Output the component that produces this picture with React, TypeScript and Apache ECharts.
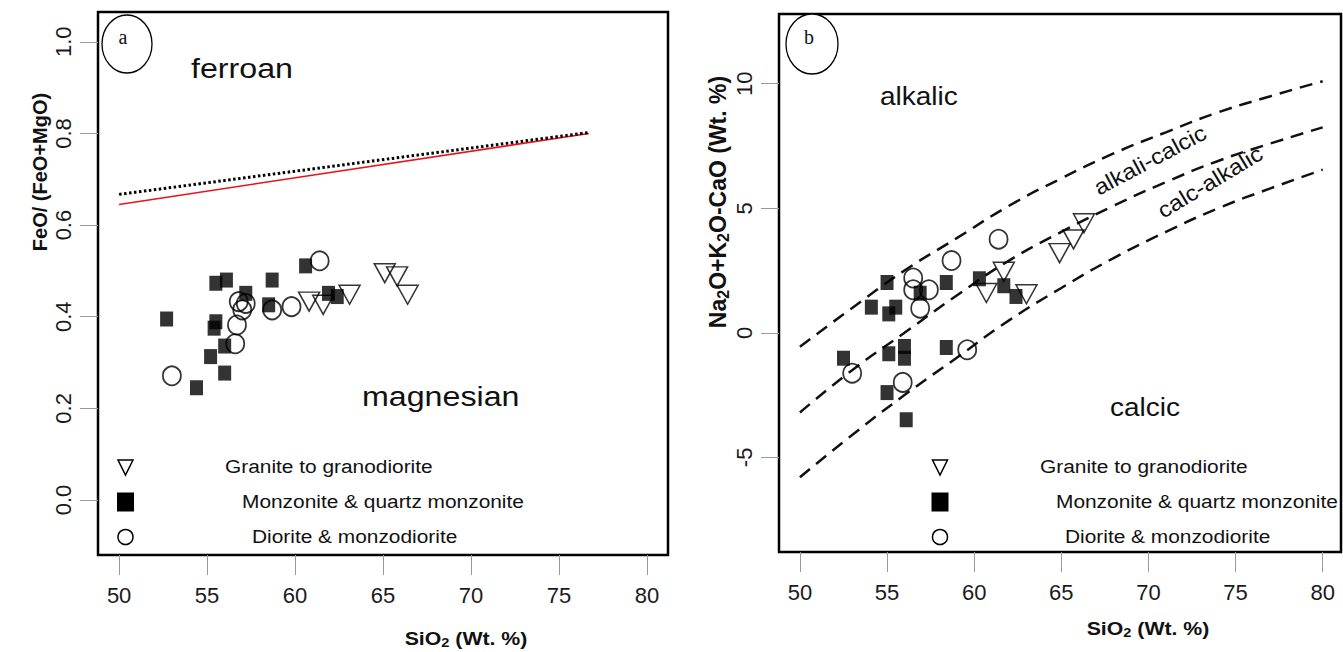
import React, { useEffect, useRef } from "react";
import * as echarts from "echarts";

// ---------- data ----------
const xTicks = [50, 55, 60, 65, 70, 75, 80];
const feTicks = [0, 0.2, 0.4, 0.6, 0.8, 1.0];
const maliTicks = [-5, 0, 5, 10];

// panel a: SiO2 vs FeO/(FeO+MgO)
const graniteFe = [
  [60.8, 0.433], [61.6, 0.426], [63.1, 0.448], [65.1, 0.495], [65.8, 0.488], [66.4, 0.448],
];
const monzoniteFe = [
  [52.7, 0.395], [55.5, 0.473], [56.1, 0.48], [57.2, 0.451], [58.7, 0.48], [58.5, 0.426],
  [60.6, 0.511], [61.9, 0.451], [62.4, 0.444], [55.5, 0.389], [55.4, 0.375], [56.0, 0.336],
  [55.2, 0.313], [56.0, 0.277], [54.4, 0.245],
];
const dioriteFe = [
  [61.4, 0.522], [56.8, 0.433], [57.2, 0.429], [57.0, 0.415], [58.7, 0.415], [59.8, 0.422],
  [56.7, 0.382], [56.6, 0.341], [53.0, 0.271],
];
const ferroanRedLine = [[50, 0.645], [76.7, 0.8]];
const ferroanDottedLine = [[50, 0.667], [76.7, 0.802]];

// panel b: SiO2 vs Na2O+K2O-CaO
const graniteMali = [
  [60.7, 1.6], [61.7, 2.45], [63.0, 1.55], [64.9, 3.2], [65.7, 3.75], [66.3, 4.4],
];
const monzoniteMali = [
  [55.0, 2.02], [54.1, 1.03], [55.5, 1.03], [55.1, 0.76], [56.9, 1.59], [58.4, 2.02],
  [60.3, 2.17], [61.7, 1.89], [62.4, 1.46], [52.5, -1.02], [55.1, -0.84], [56.0, -0.55],
  [56.0, -1.02], [58.4, -0.59], [55.0, -2.4], [56.1, -3.49],
];
const dioriteMali = [
  [61.4, 3.76], [58.7, 2.9], [56.5, 2.2], [56.5, 1.73], [57.4, 1.73], [56.9, 0.99],
  [59.6, -0.68], [53.0, -1.62], [55.9, -1.99],
];
const alkalicBoundary = [
  [50, -0.56], [53, 1.0], [56, 2.5], [59, 3.8], [62, 5.1], [65, 6.2], [68, 7.2],
  [71, 8.05], [74, 8.85], [77, 9.5], [80, 10.1],
];
const alkaliCalcicBoundary = [
  [50, -3.2], [53, -1.5], [56, 0.0], [59, 1.5], [62, 2.9], [65, 4.05], [68, 5.1],
  [71, 6.05], [74, 6.9], [77, 7.6], [80, 8.25],
];
const calcAlkalicBoundary = [
  [50, -5.8], [53, -4.1], [56, -2.5], [59, -1.0], [62, 0.5], [65, 1.8], [68, 3.0],
  [71, 4.05], [74, 5.0], [77, 5.8], [80, 6.55],
];

const legendNames = [
  "Granite to granodiorite",
  "Monzonite & quartz monzonite",
  "Diorite & monzodiorite",
];

// ---------- styles ----------
const FONT = '"Liberation Sans", Arial, Helvetica, sans-serif';
const SERIF = '"Liberation Serif", "Times New Roman", serif';
const HOLLOW = "rgba(255,255,255,0)";

function txt(x: number, y: number, text: string, size: number, o: any = {}) {
  return {
    type: "text",
    x,
    y,
    scaleX: o.scaleX ?? 1,
    rotation: o.rotation ?? 0,
    z: 10,
    style: {
      text,
      fontSize: size,
      fontFamily: o.family ?? FONT,
      fontWeight: o.weight ?? "normal",
      fill: o.fill ?? "#111",
      align: o.align ?? "left",
      verticalAlign: "middle",
      textAlign: o.align ?? "left",
      textVerticalAlign: "middle",
      rich: o.rich,
    },
  };
}

const subRich = (size: number) => ({
  b: { fontSize: size, fontWeight: "bold", fontFamily: FONT, fill: "#111" },
  s: {
    fontSize: Math.round(size * 0.68),
    fontWeight: "bold",
    fontFamily: FONT,
    fill: "#111",
    verticalAlign: "bottom",
    padding: [Math.round(size * 0.45), 0, 0, 0],
  },
});

function legendBlock(symX: number, textX: number[]) {
  const rows = [467, 502, 537];
  return [
    {
      type: "polygon",
      z: 10,
      shape: {
        points: [
          [symX - 7.5, rows[0] - 7],
          [symX + 7.5, rows[0] - 7],
          [symX, rows[0] + 8],
        ],
      },
      style: { fill: HOLLOW, stroke: "#000", lineWidth: 1.5 },
    },
    {
      type: "rect",
      z: 10,
      shape: { x: symX - 8.5, y: rows[1] - 9.5, width: 17, height: 19 },
      style: { fill: "#000" },
    },
    {
      type: "circle",
      z: 10,
      shape: { cx: symX, cy: rows[2], r: 7.5 },
      style: { fill: HOLLOW, stroke: "#000", lineWidth: 1.5 },
    },
    txt(textX[0], rows[0], legendNames[0], 18, { scaleX: 1.16 }),
    txt(textX[1], rows[1], legendNames[1], 18, { scaleX: 1.16 }),
    txt(textX[2], rows[2], legendNames[2], 18, { scaleX: 1.16 }),
  ];
}

function xAxisCfg(gridIndex: number, max: number) {
  return {
    gridIndex,
    type: "value",
    position: "bottom",
    min: 48.8,
    max,
    axisLine: { show: false, onZero: false },
    splitLine: { show: false },
    axisTick: {
      show: true,
      length: 20,
      customValues: xTicks,
      lineStyle: { color: "#9a9a9a", width: 1 },
    },
    axisLabel: {
      customValues: xTicks,
      fontSize: 22,
      fontFamily: FONT,
      color: "#1a1a1a",
      margin: 29,
    },
  };
}

function yAxisCfg(gridIndex: number, min: number, max: number, ticks: number[], digits: number) {
  return {
    gridIndex,
    type: "value",
    position: "left",
    min,
    max,
    axisLine: { show: false, onZero: false },
    splitLine: { show: false },
    axisTick: {
      show: true,
      length: 18,
      customValues: ticks,
      lineStyle: { color: "#9a9a9a", width: 1 },
    },
    axisLabel: {
      customValues: ticks,
      rotate: 90,
      fontSize: 22,
      fontFamily: FONT,
      color: "#1a1a1a",
      margin: 24,
      formatter: (v: number) => v.toFixed(digits),
    },
  };
}

function scatterSet(xi: number, gran: number[][], monz: number[][], dior: number[][]) {
  return [
    {
      type: "scatter",
      name: legendNames[1],
      xAxisIndex: xi,
      yAxisIndex: xi,
      data: monz,
      symbol: "rect",
      symbolSize: [13, 15],
      itemStyle: { color: "#000" },
      z: 3,
    },
    {
      type: "scatter",
      name: legendNames[2],
      xAxisIndex: xi,
      yAxisIndex: xi,
      data: dior,
      symbol: "circle",
      symbolSize: [18, 19],
      itemStyle: { color: HOLLOW, borderColor: "#000", borderWidth: 1.8 },
      z: 4,
    },
    {
      type: "scatter",
      name: legendNames[0],
      xAxisIndex: xi,
      yAxisIndex: xi,
      data: gran,
      symbol: "triangle",
      symbolRotate: 180,
      symbolSize: [21, 19],
      itemStyle: { color: HOLLOW, borderColor: "#000", borderWidth: 1.5 },
      z: 5,
    },
  ];
}

function lineSeries(xi: number, data: number[][], lineStyle: any, smooth = false) {
  return {
    type: "line",
    xAxisIndex: xi,
    yAxisIndex: xi,
    data,
    smooth,
    symbol: "none",
    silent: true,
    lineStyle,
    z: 2,
  };
}

export default function App() {
  const ref = useRef<HTMLDivElement>(null);

  useEffect(() => {
    if (!ref.current) return;
    const chart = echarts.init(ref.current, undefined, { renderer: "svg" });
    const dash = { color: "#111", width: 2.5, type: [13, 8] };
    chart.setOption({
      animation: false,
      backgroundColor: "#fff",
      grid: [
        {
          left: 98, top: 12, width: 570, height: 543,
          show: true, borderColor: "#000", borderWidth: 2.5, backgroundColor: "transparent",
        },
        {
          left: 779, top: 14, width: 562, height: 538,
          show: true, borderColor: "#000", borderWidth: 2.5, backgroundColor: "transparent",
        },
      ],
      xAxis: [xAxisCfg(0, 81.2), xAxisCfg(1, 81.05)],
      yAxis: [
        yAxisCfg(0, -0.12, 1.065, feTicks, 1),
        yAxisCfg(1, -8.8, 12.8, maliTicks, 0),
      ],
      series: [
        lineSeries(0, ferroanRedLine, { color: "#e8141c", width: 1.6 }),
        lineSeries(0, ferroanDottedLine, { color: "#000", width: 3, type: [2.5, 2.5] }),
        ...scatterSet(0, graniteFe, monzoniteFe, dioriteFe),
        lineSeries(1, alkalicBoundary, dash, true),
        lineSeries(1, alkaliCalcicBoundary, dash, true),
        lineSeries(1, calcAlkalicBoundary, dash, true),
        ...scatterSet(1, graniteMali, monzoniteMali, dioriteMali),
      ],
      graphic: [
        // panel labels
        {
          type: "ellipse", z: 10,
          shape: { cx: 127, cy: 44, rx: 25, ry: 29 },
          style: { fill: "#fff", stroke: "#000", lineWidth: 1.3 },
        },
        txt(123, 37, "a", 20, { family: SERIF, align: "center" }),
        {
          type: "ellipse", z: 10,
          shape: { cx: 812, cy: 44, rx: 26, ry: 30 },
          style: { fill: "#fff", stroke: "#000", lineWidth: 1.3 },
        },
        txt(809, 37, "b", 20, { family: SERIF, align: "center" }),
        // field names
        txt(191, 68, "ferroan", 28, { scaleX: 1.15 }),
        txt(362, 396, "magnesian", 28, { scaleX: 1.15 }),
        txt(880, 97, "alkalic", 25, { scaleX: 1.12 }),
        txt(1110, 408, "calcic", 25, { scaleX: 1.12 }),
        txt(1150, 160, "alkali-calcic", 22, {
          scaleX: 1.1, align: "center", rotation: (28 * Math.PI) / 180,
        }),
        txt(1210, 182, "calc-alkalic", 22, {
          scaleX: 1.1, align: "center", rotation: (31 * Math.PI) / 180,
        }),
        // axis titles
        txt(40, 172, "FeO/ (FeO+MgO)", 20, {
          weight: "bold", align: "center", rotation: Math.PI / 2,
        }),
        txt(718, 202, "{b|Na}{s|2}{b|O+K}{s|2}{b|O-CaO (Wt. %)}", 23, {
          align: "center", rotation: Math.PI / 2, rich: subRich(23),
        }),
        txt(466, 638, "{b|SiO}{s|2}{b| (Wt. %)}", 19, {
          align: "center", scaleX: 1.12, rich: subRich(19),
        }),
        txt(1148, 628, "{b|SiO}{s|2}{b| (Wt. %)}", 19, {
          align: "center", scaleX: 1.12, rich: subRich(19),
        }),
        // legends
        ...legendBlock(125.5, [225, 242, 252]),
        ...legendBlock(940, [1040, 1056, 1065]),
      ],
    });
    return () => chart.dispose();
  }, []);

  return (
    <div
      ref={ref}
      style={{ position: "fixed", left: 0, top: 0, width: 1343, height: 652, background: "#fff" }}
    />
  );
}
